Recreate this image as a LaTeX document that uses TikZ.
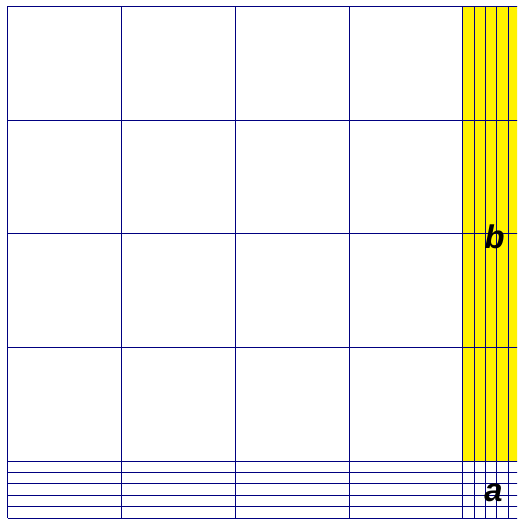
\documentclass[tikz,border=0pt]{standalone}
\usepackage{fontspec}
\setsansfont{Liberation Sans}
\definecolor{navy}{RGB}{0,0,128}
\tikzset{gridline/.style={navy,line width=0.25pt},
  sidelabel/.style={font=\sffamily\bfseries\itshape\fontsize{8.2}{9}\selectfont}}
\begin{document}
\begin{tikzpicture}
\clip (-0.07,-0.026) rectangle (4.477,4.556);
\fill[yellow] (4,0.5) rectangle (4.5,4.5);
\foreach \x in {0,1,2,3,4,4.1,4.2,4.3,4.4,4.5} \draw[gridline] (\x,0)--(\x,4.5);
\foreach \y in {0,0.1,0.2,0.3,0.4,0.5,1.5,2.5,3.5,4.5} \draw[gridline] (0,\y)--(4.5,\y);
\node[sidelabel] (b) at (4.28,2.476) {b};
\node[sidelabel] (a) at (4.27,0.22) {a};
\end{tikzpicture}
\end{document}
